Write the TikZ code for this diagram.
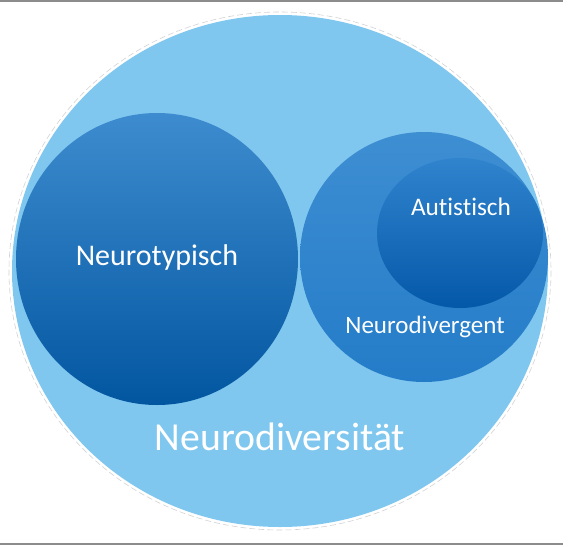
\documentclass[tikz,border=0pt]{standalone}
\usepackage{fontspec}
\setmainfont[Ligatures={NoCommon}]{Carlito}
\usetikzlibrary{shapes.geometric}
\definecolor{bigblue}{RGB}{128,199,239}
\definecolor{ntTop}{RGB}{62,140,207}
\definecolor{ntBot}{RGB}{2,86,160}
\definecolor{ndTop}{RGB}{62,142,210}
\definecolor{ndBot}{RGB}{36,124,200}
\definecolor{auTop}{RGB}{48,132,206}
\definecolor{auBot}{RGB}{4,88,168}
\definecolor{framegray}{RGB}{140,140,140}
\tikzset{
  blob/.style={ellipse, inner sep=0pt, draw=none},
  lbl/.style={text=white, inner sep=0pt, anchor=center},
  frameline/.style={draw=framegray, line width=2pt}
}
\begin{document}
\begin{tikzpicture}[x=1pt,y=-1pt]
\useasboundingbox (0,0) rectangle (570,546);
% frame lines
\coordinate (tl) at (0,1);
\coordinate (tr) at (563,1);
\coordinate (bl) at (0,544);
\coordinate (br) at (563,544);
\draw[frameline] (tl) -- (tr);
\draw[frameline] (bl) -- (br);
% outer faint ring
\draw[gray!35, line width=0.6pt, dash pattern=on 6pt off 3pt] (280,271) ellipse [x radius=271, y radius=259];
% big circle
\node[blob, fill=bigblue, minimum width=536pt, minimum height=512pt] (div) at (280,271) {};
% Neurotypisch
\node[blob, top color=ntTop, bottom color=ntBot, minimum width=282pt, minimum height=292pt] (nt) at (157,259) {};
% Neurodivergent
\node[blob, top color=ndTop, bottom color=ndBot, minimum width=248pt, minimum height=250pt] (nd) at (424,257) {};
% Autistisch
\node[blob, top color=auTop, bottom color=auBot, minimum width=166pt, minimum height=150pt] (au) at (460,233) {};
% labels
\node[lbl, font=\fontsize{30}{32}\selectfont] (tnt) at (157,257) {Neurotypisch};
\node[lbl, font=\fontsize{25.3}{27}\selectfont] (tau) at (461,207) {Autistisch};
\node[lbl, font=\fontsize{25}{27}\selectfont] (tnd) at (425,327) {Neurodivergent};
\node[lbl, font=\fontsize{39.7}{42}\selectfont] (tdiv) at (280,437) {Neurodiversität};
\end{tikzpicture}
\end{document}
